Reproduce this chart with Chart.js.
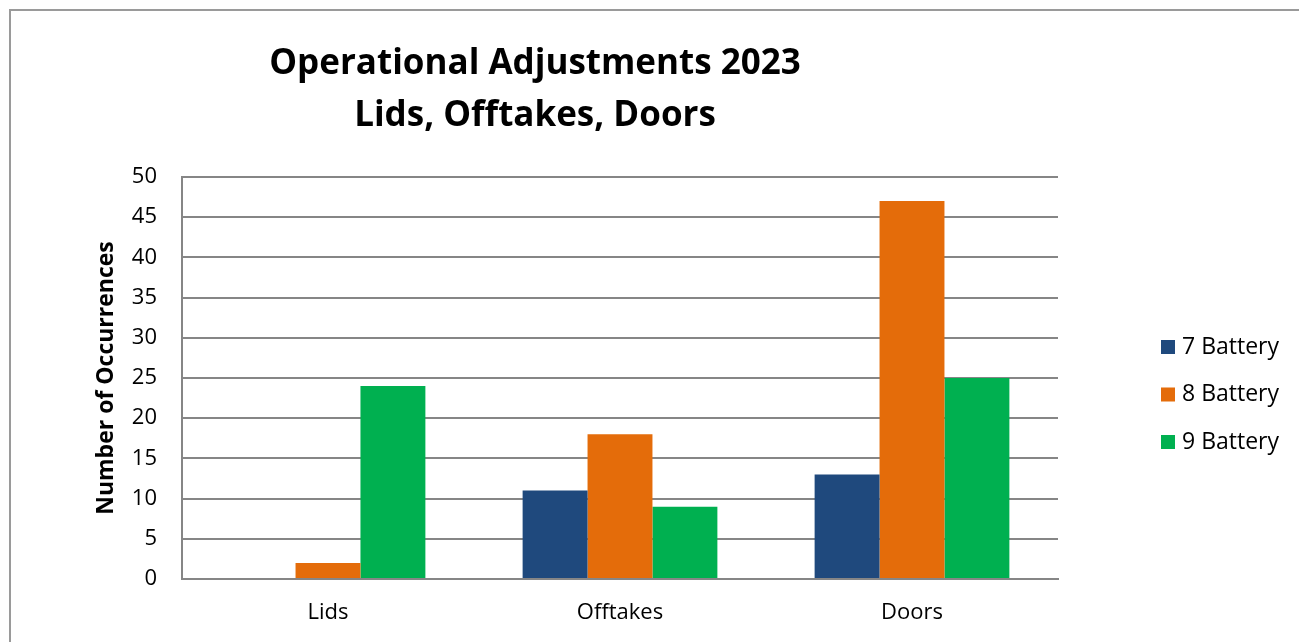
<!DOCTYPE html>
<html lang="en">
<head>
  <meta charset="UTF-8">
  <title>Operational Adjustments 2023</title>
  <style>
    html, body { margin: 0; padding: 0; background: #fff; overflow: hidden; }
    .frame {
      position: absolute;
      left: 9px;
      top: 9px;
      width: 1400px;
      height: 800px;
      border-left: 2px solid #9a9a9a;
      border-top: 2px solid #9a9a9a;
    }
    .wrap {
      position: absolute;
      left: 0;
      top: 0;
      width: 1299px;
      height: 642px;
    }
  </style>
</head>
<body>
  <script src="https://cdn.jsdelivr.net/npm/chart.js@4.4.1/dist/chart.umd.min.js"></script>
  <div class="frame"></div>
  <div class="wrap">
    <canvas id="chart"></canvas>
  </div>
  <script>
  const categories = ['Lids', 'Offtakes', 'Doors']
  const seriesNames = ['7 Battery', '8 Battery', '9 Battery']
  const battery7 = [0, 11, 13]
  const battery8 = [2, 18, 47]
  const battery9 = [24, 9, 25]
  const yTicks = [0, 5, 10, 15, 20, 25, 30, 35, 40, 45, 50]
  const titleLines = ['Operational Adjustments 2023', 'Lids, Offtakes, Doors']

  const colors = ['#1F497D', '#E46C0A', '#00B050']
  const fontFamily = '"Open Sans", sans-serif'

  // title drawn over the left part of the frame, like the original
  const titlePlugin = {
    id: 'sheetTitle',
    afterDraw(chart) {
      const ctx = chart.ctx
      ctx.save()
      ctx.fillStyle = '#000'
      ctx.font = 'bold 35px ' + fontFamily
      ctx.textAlign = 'center'
      ctx.textBaseline = 'middle'
      ctx.fillText(titleLines[0], 535, 64)
      ctx.fillText(titleLines[1], 535, 116)
      ctx.restore()
    }
  }

  // legend on the right with the wide gap of the original
  const legendPlugin = {
    id: 'sideLegend',
    afterDraw(chart) {
      const ctx = chart.ctx
      ctx.save()
      ctx.font = '23px ' + fontFamily
      ctx.textAlign = 'left'
      ctx.textBaseline = 'middle'
      chart.data.datasets.forEach((ds, i) => {
        const y = 347 + i * 47.5
        ctx.fillStyle = ds.backgroundColor
        ctx.fillRect(1161, y - 7, 14, 14)
        ctx.fillStyle = '#000'
        ctx.fillText(ds.label, 1182, y)
      })
      ctx.restore()
    }
  }

  const datasets = [battery7, battery8, battery9].map((values, i) => ({
    label: seriesNames[i],
    data: values,
    backgroundColor: colors[i],
    borderWidth: 0,
    barPercentage: 1,
    categoryPercentage: 0.667
  }))

  new Chart(document.getElementById('chart'), {
    type: 'bar',
    data: {
      labels: categories,
      datasets: datasets
    },
    options: {
      responsive: true,
      maintainAspectRatio: false,
      animation: false,
      layout: {
        padding: { top: 177, left: 90, right: 241, bottom: 0 }
      },
      scales: {
        x: {
          grid: { display: false, drawTicks: false },
          border: { display: true, color: '#868686', width: 2 },
          ticks: {
            color: '#000',
            padding: 21,
            font: { family: fontFamily, size: 22 }
          },
          afterFit: (scale) => { scale.height = 63 }
        },
        y: {
          min: 0,
          max: 50,
          afterBuildTicks: (scale) => {
            scale.ticks = yTicks.map(v => ({ value: v }))
          },
          grid: {
            color: '#868686',
            lineWidth: 2,
            drawTicks: false
          },
          border: { display: true, color: '#868686', width: 2 },
          ticks: {
            color: '#000',
            padding: 25,
            font: { family: fontFamily, size: 22 }
          },
          title: {
            display: true,
            text: 'Number of Occurrences',
            color: '#000',
            padding: { top: 3, bottom: 0 },
            font: { family: fontFamily, size: 23, weight: 'bold' }
          },
          afterFit: (scale) => { scale.width = 92 }
        }
      },
      plugins: {
        legend: { display: false },
        tooltip: { enabled: false }
      }
    },
    plugins: [titlePlugin, legendPlugin]
  })
  </script>
</body>
</html>
